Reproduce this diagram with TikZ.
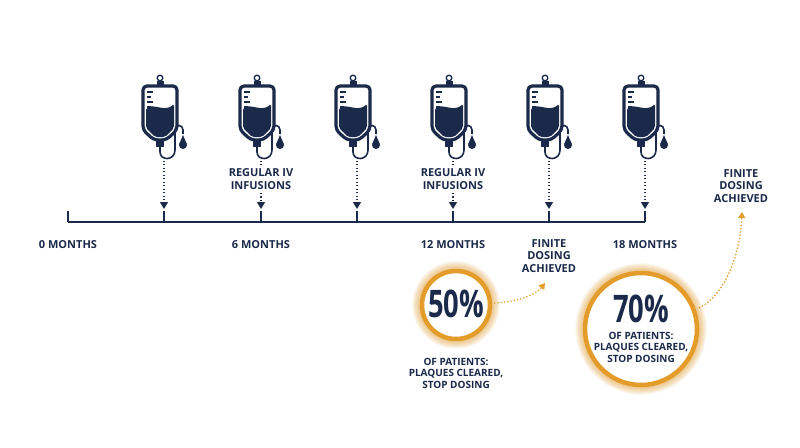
\documentclass[tikz,border=0pt]{standalone}
\usepackage{fontspec}
\setmainfont{Open Sans}
\usetikzlibrary{arrows.meta}
\definecolor{navy}{HTML}{1B2A4A}
\definecolor{gold}{HTML}{E39B2A}
\begin{document}
\begin{tikzpicture}[x=1pt,y=-1pt,
  lab/.style={text=navy,font=\fontsize{11}{12.5}\selectfont\bfseries,align=center},
  lab2/.style={text=navy,font=\fontsize{10}{11.5}\selectfont\bfseries,align=center},
  big/.style={text=navy,font=\fontsize{38}{38}\selectfont\bfseries},
  dotarr/.style={navy,line width=1.3pt,dash pattern=on 1.3pt off 2.2pt,-{Triangle[length=7pt,width=8pt]}},
  goldarr/.style={gold,line width=1.3pt,dash pattern=on 1.3pt off 2pt,-{Triangle[length=6pt,width=7pt]}},
  bag/.pic={
    \draw[navy,line width=1.3pt] (0,-36) circle (2.8);
    \fill[navy] (-3.5,-33) rectangle (3.5,-28);
    \draw[navy,line width=3.2pt,rounded corners=4pt] (-17,-28) -- (17,-28) -- (17,16) -- (6,26) -- (-6,26) -- (-17,16) -- cycle;
    \fill[navy,rounded corners=2pt] (-14,-6) .. controls (-5,-10) and (5,-2) .. (14,-10) -- (14,14) -- (5,23) -- (-5,23) -- (-14,14) -- cycle;
    \foreach \yy/\w in {-22/6,-17/4,-12/6,-7/4}{\draw[navy,line width=1.4pt] (-13,\yy) -- ++(\w,0);}
    \fill[navy] (-4,26) rectangle (4,33);
    \draw[navy,line width=1.6pt] (0,33) -- (0,38) .. controls (0,47) and (15,47) .. (15,36) -- (15,16) .. controls (15,10) and (23,10) .. (23,16) -- (23,20);
    \fill[navy] (23,31) circle (4);
    \fill[navy] (19.2,30) -- (23,21) -- (26.8,30) -- cycle;
  }]
\useasboundingbox (0,0) rectangle (800,447);
\fill[white] (0,0) rectangle (800,447);
\draw[navy,line width=1.5pt] (68,222) -- (645,222);
\foreach \i/\x in {0/68,1/164,2/261,3/357,4/453,5/549,6/645}{
  \draw[navy,line width=1.5pt] (\x,211) -- (\x,222);
  \coordinate (t\i) at (\x,209);
}
\foreach \i/\x in {1/164,2/261,3/357,4/453,5/549,6/645}{
  \pic at (\x-4,114) {bag};
  \coordinate (s\i) at (\x,157);
}
\foreach \i in {1,3,5,6}{\draw[dotarr] (s\i) -- (t\i);}
\node[lab] (r1) at (261,179) {REGULAR IV\\INFUSIONS};
\node[lab] (r2) at (453,179) {REGULAR IV\\INFUSIONS};
\draw[navy,line width=1.3pt,dash pattern=on 1.3pt off 2.2pt] (s2) -- (r1.north);
\draw[navy,line width=1.3pt,dash pattern=on 1.3pt off 2.2pt] (s4) -- (r2.north);
\draw[dotarr] (r1.south) -- (t2);
\draw[dotarr] (r2.south) -- (t4);
\node[lab] (m0) at (68,245) {0 MONTHS};
\node[lab] (m6) at (261,245) {6 MONTHS};
\node[lab] (m12) at (453,245) {12 MONTHS};
\node[lab] (m18) at (645,245) {18 MONTHS};
\node[lab] (f1) at (549,256) {FINITE\\DOSING\\ACHIEVED};
\node[lab] (f2) at (741,186) {FINITE\\DOSING\\ACHIEVED};
\foreach \cx/\cy/\r/\n in {456/305/34/c1,641/329/56/c2}{
  \foreach \k in {1,...,14}{
    \draw[gold,opacity=0.06,line width=\k*1.4pt] (\cx,\cy) circle (\r);
  }
  \draw[gold,line width=4.5pt,fill=white] (\cx,\cy) circle (\r);
  \coordinate (\n) at (\cx,\cy);
}
\node[big,xscale=0.72] (p1) at (456,304) {50\%};
\node[lab2] (d1) at (456,373) {OF PATIENTS:\\PLAQUES CLEARED,\\STOP DOSING};
\node[big,xscale=0.72] (p2) at (641,309) {70\%};
\node[lab2] (d2) at (641,347) {OF PATIENTS:\\PLAQUES CLEARED,\\STOP DOSING};
\coordinate (a1) at (494,303);
\coordinate (a2) at (699,308);
\draw[goldarr] (a1) .. controls (515,302) and (535,296) .. (545,283);
\draw[goldarr] (a2) .. controls (725,295) and (740,255) .. (742,212);
\end{tikzpicture}
\end{document}
